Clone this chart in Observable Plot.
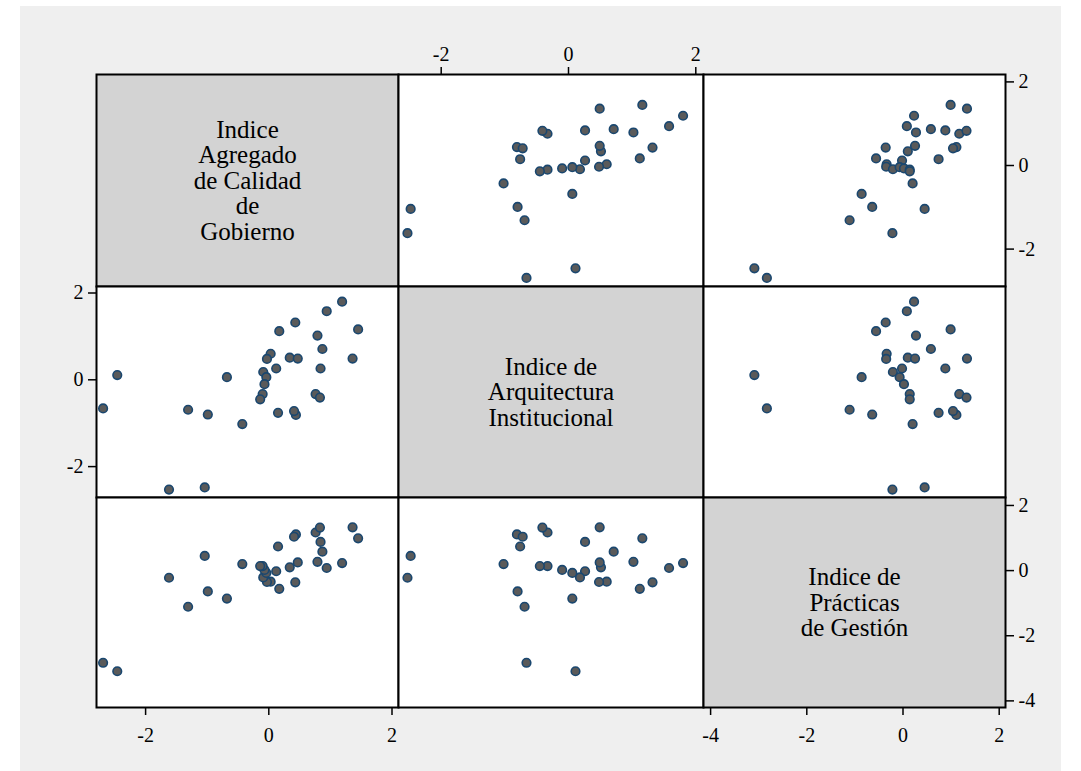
<!DOCTYPE html>
<html><head><meta charset="utf-8">
<script src="https://cdn.jsdelivr.net/npm/d3@7"></script>
<script src="https://cdn.jsdelivr.net/npm/@observablehq/plot@0.6"></script>
<style>
html,body{margin:0;padding:0;background:#ffffff;}
#root{position:relative;width:1081px;height:771px;overflow:hidden;}
#bg{position:absolute;left:20px;top:6px;width:1041px;height:765px;background:#efefef;}
svg text{font-family:'Liberation Serif','Times New Roman',serif;}
</style></head>
<body><div id="root"><div id="bg"></div></div>
<script>
// Data: one entry per observation (country)
const agregado     = [1.19, 0.94, 0.43, 0.17, 1.45, 0.79, 0.87, 0.03, -0.03, 0.34, 0.47, 1.36, 0.12, 0.84, -0.09, -0.04, -2.46, -0.68, -0.07, -0.10, -0.14, 0.76, 0.83, -2.69, -1.31, -0.99, 0.15, 0.44, 0.41, -0.43, -1.62, -1.04];
const arquitectura = [1.80, 1.58, 1.32, 1.12, 1.16, 1.02, 0.71, 0.60, 0.48, 0.51, 0.49, 0.49, 0.26, 0.26, 0.18, 0.06, 0.11, 0.06, -0.10, -0.33, -0.45, -0.33, -0.41, -0.66, -0.69, -0.80, -0.76, -0.81, -0.72, -1.02, -2.53, -2.48];
const practicas    = [0.23, 0.08, -0.36, -0.56, 0.99, 0.27, 0.58, -0.34, -0.35, 0.10, 0.25, 1.33, -0.02, 0.88, -0.21, -0.07, -3.09, -0.86, 0.02, 0.14, 0.14, 1.17, 1.32, -2.83, -1.11, -0.64, 0.74, 1.11, 1.04, 0.20, -0.22, 0.45];
const varLabels = ["Indice\nAgregado\nde Calidad\nde\nGobierno", "Indice de\nArquitectura\nInstitucional", "Indice de\nPrácticas\nde Gestión"];
const ticksA = [-2, 0, 2];
const ticksB = [-2, 0, 2];
const ticksC = [-4, -2, 0, 2];

const data = agregado.map((a, k) => ({a, b: arquitectura[k], c: practicas[k]}));
const keys = ["a", "b", "c"];
const tickSets = [ticksA, ticksB, ticksC];

// layout (pixel edges of the 3x3 grid) and per-variable calibration
const cols = [96, 398, 703, 1005];
const rows = [74, 286, 497, 707];
const xCal = [[268.3, 61.6], [568.0, 63.65], [902.5, 48.1]];
const yCal = [[165.0, 41.8], [379.3, 43.4], [570.1, 32.57]];
const xDom = j => [(cols[j] - xCal[j][0]) / xCal[j][1], (cols[j+1] - xCal[j][0]) / xCal[j][1]];
const yDom = i => [(yCal[i][0] - rows[i+1]) / yCal[i][1], (yCal[i][0] - rows[i]) / yCal[i][1]];
const fmt = d => String(d);
const serif = "'Liberation Serif', 'Times New Roman', serif";
const root = document.getElementById("root");

function cell(i, j) {
  const left = (i === 1 && j === 0), right = (j === 2 && i !== 1);
  const top = (i === 0 && j === 1), bottom = (i === 2 && j !== 1);
  const ml = left ? 60 : 4, mr = right ? 60 : 4, mt = top ? 60 : 4, mb = bottom ? 60 : 4;
  const w = cols[j+1] - cols[j], h = rows[i+1] - rows[i];
  const marks = [Plot.frame({fill: i === j ? "#d3d3d3" : "#ffffff", stroke: "#000", strokeWidth: 2})];
  if (i === j) {
    marks.push(Plot.text([varLabels[i]], {text: d => d, frameAnchor: "middle", fontSize: 25, lineHeight: 1.02, fill: "#000", fontFamily: serif}));
  } else {
    marks.push(Plot.dot(data, {x: keys[j], y: keys[i], r: 4.3, fill: "#5a5a5a", stroke: "#1a476f", strokeWidth: 1.6}));
  }
  const ax = {tickSize: 8, tickFormat: fmt, label: null, strokeWidth: 1.5, fontFamily: serif, fontSize: 20};
  if (bottom) marks.push(Plot.axisX({...ax, anchor: "bottom", ticks: tickSets[j], tickPadding: 12}));
  if (top) marks.push(Plot.axisX({...ax, anchor: "top", ticks: tickSets[j], tickPadding: 6}));
  if (right) marks.push(Plot.axisY({...ax, anchor: "right", ticks: tickSets[i], tickPadding: 5}));
  if (left) marks.push(Plot.axisY({...ax, anchor: "left", ticks: tickSets[i], tickPadding: 5}));
  const xo = {domain: xDom(j)}; if (!(top || bottom)) xo.axis = null;
  const yo = {domain: yDom(i)}; if (!(left || right)) yo.axis = null;
  const svg = Plot.plot({
    width: w + ml + mr, height: h + mt + mb,
    marginLeft: ml, marginRight: mr, marginTop: mt, marginBottom: mb,
    x: xo, y: yo,
    style: {fontFamily: serif, fontSize: "20px", background: "transparent", overflow: "visible", color: "#000"},
    marks
  });
  svg.style.position = "absolute";
  svg.style.left = (cols[j] - ml) + "px";
  svg.style.top = (rows[i] - mt) + "px";
  svg.style.maxWidth = "none";
  root.appendChild(svg);
}
for (let i = 0; i < 3; i++) for (let j = 0; j < 3; j++) cell(i, j);
</script>
</body></html>
